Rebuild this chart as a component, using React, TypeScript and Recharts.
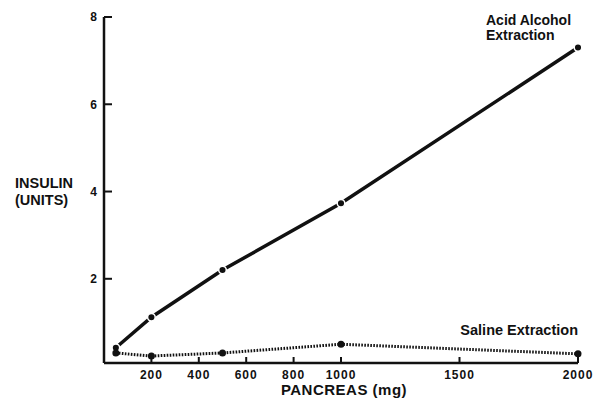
import React from 'react';
import { LineChart, Line, XAxis, YAxis } from 'recharts';

const doses = [50, 200, 500, 1000, 2000];
const acidAlcohol = [0.42, 1.12, 2.2, 3.73, 7.3];
const saline = [0.3, 0.23, 0.3, 0.5, 0.28];
const xTicks = [200, 400, 600, 800, 1000, 1500, 2000];
const yTicks = [2, 4, 6, 8];

const data = doses.map((d, i) => ({ dose: d, acid: acidAlcohol[i], saline: saline[i] }));

const FONT = '"Liberation Sans", Arial, sans-serif';
const tickStyle = { fontSize: 12, fontWeight: 700, fill: '#111', fontFamily: FONT, letterSpacing: 1 };

export default function App() {
  return (
    <div style={{ position: 'absolute', left: 0, top: 0, width: 595, height: 402, background: '#fff' }}>
      <LineChart width={595} height={402} data={data} margin={{ top: 17, right: 17, left: 74, bottom: 9 }}>
        <XAxis
          dataKey="dose"
          type="number"
          domain={[0, 2000]}
          ticks={xTicks}
          height={30}
          axisLine={{ stroke: '#111', strokeWidth: 2.5 }}
          tickLine={{ stroke: '#111', strokeWidth: 2 }}
          tickSize={-6}
          tickMargin={13}
          tick={tickStyle}
          interval={0}
        />
        <YAxis
          type="number"
          domain={[0.07, 8]}
          ticks={yTicks}
          width={30}
          axisLine={{ stroke: '#111', strokeWidth: 2.5 }}
          tickLine={{ stroke: '#111', strokeWidth: 2 }}
          tickSize={-8}
          tickMargin={15}
          tick={{ ...tickStyle, letterSpacing: 0 }}
          allowDataOverflow
        />
        <Line
          dataKey="acid"
          type="linear"
          stroke="#111"
          strokeWidth={3.5}
          dot={{ r: 3.8, fill: '#111', stroke: '#fff', strokeWidth: 1.5 }}
          isAnimationActive={false}
        />
        <Line
          dataKey="saline"
          type="linear"
          stroke="#111"
          strokeWidth={3}
          strokeDasharray="1.6 1.4"
          dot={{ r: 3.5, fill: '#111', stroke: '#111', strokeWidth: 0 }}
          isAnimationActive={false}
        />
      </LineChart>
      <svg width={595} height={402} style={{ position: 'absolute', left: 0, top: 0, pointerEvents: 'none' }}>
        <g fontFamily={FONT} fontWeight={700} fill="#111">
          <text x={15} y={188} fontSize={14.5}>INSULIN</text>
          <text x={15} y={205} fontSize={14.5}>(UNITS)</text>
          <text x={344} y={395} fontSize={15} textAnchor="middle" letterSpacing={0.5}>PANCREAS (mg)</text>
          <text x={486} y={25} fontSize={14}>Acid Alcohol</text>
          <text x={486} y={40} fontSize={14}>Extraction</text>
          <text x={578} y={335} fontSize={14.5} textAnchor="end">Saline Extraction</text>
        </g>
      </svg>
    </div>
  );
}
